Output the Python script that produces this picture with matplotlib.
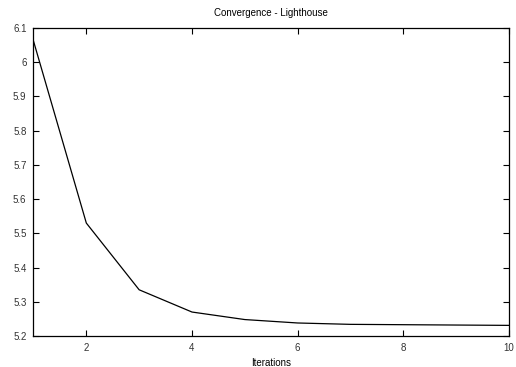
import matplotlib
matplotlib.use("Agg")
import matplotlib.pyplot as plt

iterations = [1, 2, 3, 4, 5, 6, 7, 8, 9, 10]
values = [6.062, 5.530, 5.335, 5.270, 5.248, 5.238, 5.234, 5.233, 5.232, 5.231]
yticks = [5.2, 5.3, 5.4, 5.5, 5.6, 5.7, 5.8, 5.9, 6.0, 6.1]
ytick_labels = ["5.2", "5.3", "5.4", "5.5", "5.6", "5.7", "5.8", "5.9", "6", "6.1"]
xticks = [2, 4, 6, 8, 10]

plt.rcParams['font.family'] = ['Liberation Sans', 'DejaVu Sans']
plt.rcParams['font.size'] = 7

fig = plt.figure(figsize=(5.16, 3.67), dpi=100)
ax = fig.add_axes([0.0649, 0.0845, 0.9215, 0.8392])
ax.plot(iterations, values, color='black', linewidth=0.9)

ax.set_xlim(1, 10)
ax.set_ylim(5.2, 6.1)
ax.set_xticks(xticks)
ax.set_yticks(yticks)
ax.set_yticklabels(ytick_labels)
ax.tick_params(direction='in', length=4, width=0.8, top=True, right=True,
               colors='black', labelcolor='#333333', pad=5)
for s in ax.spines.values():
    s.set_linewidth(0.9)

ax.set_title("Convergence - Lighthouse", fontsize=7, pad=9)
ax.set_xlabel("Iterations", labelpad=4)

fig.savefig("out.png", dpi=100)
